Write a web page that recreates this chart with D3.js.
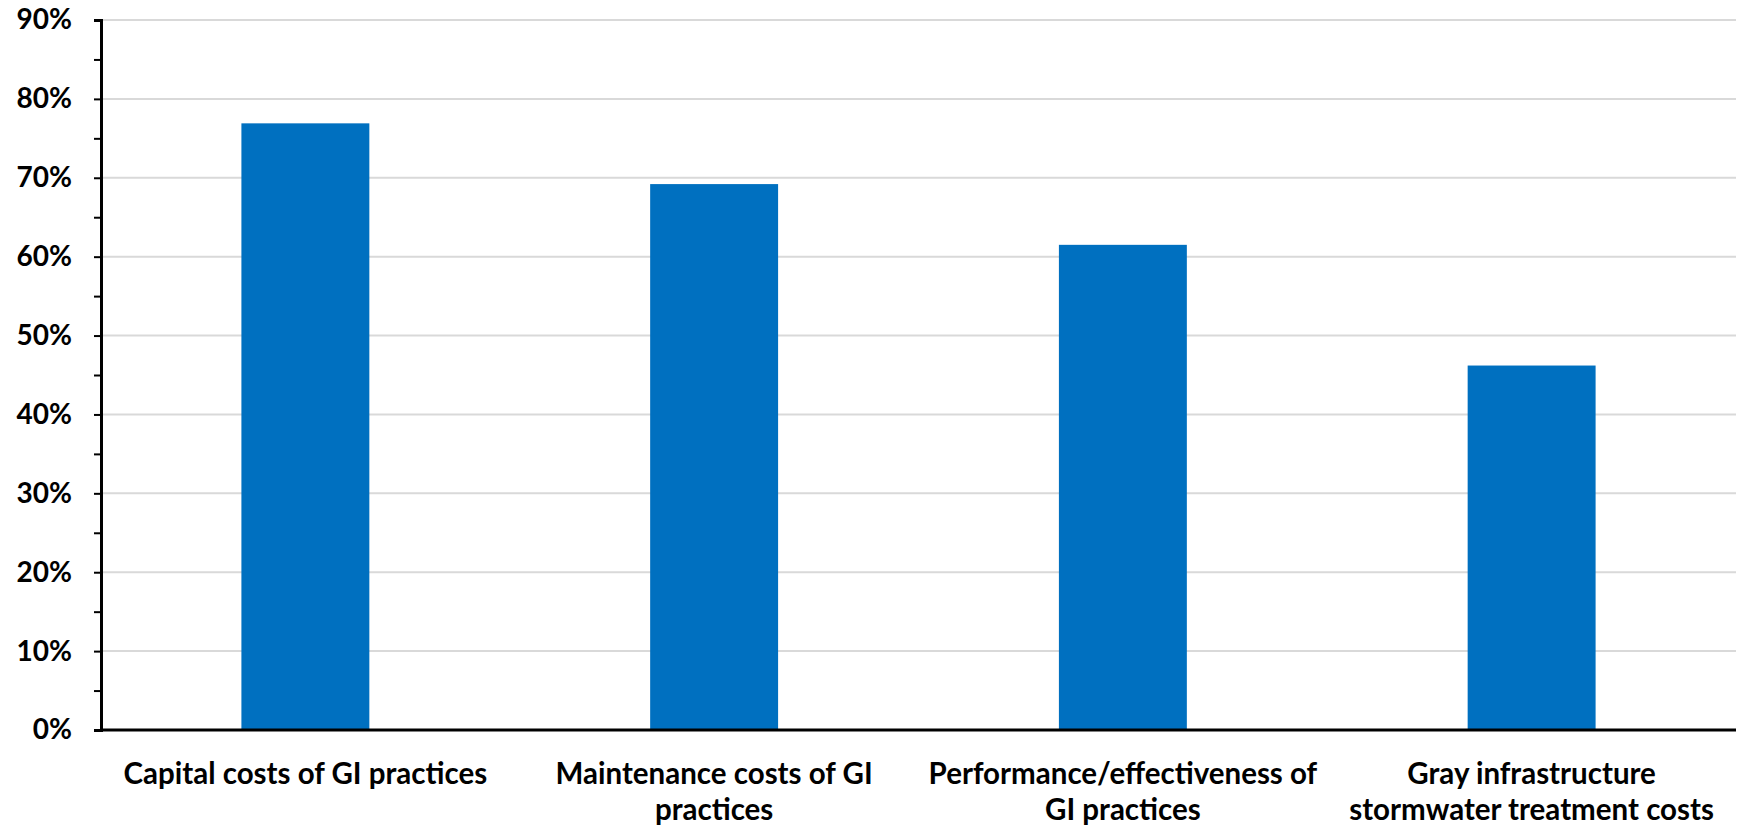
<!DOCTYPE html>
<html>
<head>
<meta charset="utf-8">
<script src="https://cdn.jsdelivr.net/npm/d3@7"></script>
<style>
  html, body { margin: 0; padding: 0; background: #ffffff; }
  svg { display: block; }
  text { font-family: Lato, "Open Sans", sans-serif; font-weight: 700; fill: #000; }
</style>
</head>
<body>
<svg id="chart" width="1740" height="827"></svg>
<script>
// Share of respondents citing each cost/performance concern
const categories = [
  "Capital costs of GI practices",
  "Maintenance costs of GI practices",
  "Performance/effectiveness of GI practices",
  "Gray infrastructure stormwater treatment costs"
];
const categoryLines = [
  ["Capital costs of GI practices"],
  ["Maintenance costs of GI", "practices"],
  ["Performance/effectiveness of", "GI practices"],
  ["Gray infrastructure", "stormwater treatment costs"]
];
const values = [76.9, 69.2, 61.5, 46.2];
const majorTicks = [0, 10, 20, 30, 40, 50, 60, 70, 80, 90];
const minorTicks = [5, 15, 25, 35, 45, 55, 65, 75, 85];

const svg = d3.select("#chart");
const margin = { left: 101, right: 4, top: 20, bottom: 97 };
const W = 1740, H = 827;
const x0 = margin.left, x1 = W - margin.right;
const y0 = H - margin.bottom, y1 = margin.top;

const x = d3.scaleBand().domain(categories).range([x0, x1]).paddingInner(0).paddingOuter(0);
const y = d3.scaleLinear().domain([0, 90]).range([y0, y1]);
const barW = x.bandwidth() * 0.313;

// horizontal gridlines
svg.append("g").selectAll("line")
  .data(majorTicks.filter(d => d > 0))
  .join("line")
  .attr("x1", x0).attr("x2", x1)
  .attr("y1", d => y(d)).attr("y2", d => y(d))
  .attr("stroke", "#d9d9d9").attr("stroke-width", 2);

// bars
svg.append("g").selectAll("rect")
  .data(values)
  .join("rect")
  .attr("x", (d, i) => x(categories[i]) + x.bandwidth() / 2 - barW / 2)
  .attr("width", barW)
  .attr("y", d => y(d))
  .attr("height", d => y(0) - y(d))
  .attr("fill", "#0070c0");

// y axis with major labels
const yAxis = d3.axisLeft(y).tickValues(majorTicks).tickSize(7).tickPadding(22)
  .tickFormat(d => d + "%");
const gy = svg.append("g").attr("transform", `translate(${x0},0)`).call(yAxis);
gy.select(".domain").attr("stroke", "#000").attr("stroke-width", 3);
gy.selectAll(".tick line").attr("stroke", "#000").attr("stroke-width", 2);
gy.selectAll(".tick text").style("font-size", "28px").attr("font-family", null).attr("font-size", null);

// minor ticks
const gm = svg.append("g").attr("transform", `translate(${x0},0)`)
  .call(d3.axisLeft(y).tickValues(minorTicks).tickSize(7).tickFormat(""));
gm.select(".domain").remove();
gm.selectAll(".tick line").attr("stroke", "#000").attr("stroke-width", 2);

// x axis baseline
svg.append("line")
  .attr("x1", x0 - 1).attr("x2", x1)
  .attr("y1", y(0)).attr("y2", y(0))
  .attr("stroke", "#000").attr("stroke-width", 3);

// category labels
const lbl = svg.append("g").selectAll("text")
  .data(categories)
  .join("text")
  .attr("text-anchor", "middle")
  .style("font-size", "29.5px")
  .attr("x", d => x(d) + x.bandwidth() / 2)
  .attr("y", y(0) + 54);
lbl.each(function (d, i) {
  d3.select(this).selectAll("tspan")
    .data(categoryLines[i])
    .join("tspan")
    .attr("x", x(d) + x.bandwidth() / 2)
    .attr("dy", (t, j) => j === 0 ? 0 : 36)
    .text(t => t);
});
</script>
</body>
</html>
